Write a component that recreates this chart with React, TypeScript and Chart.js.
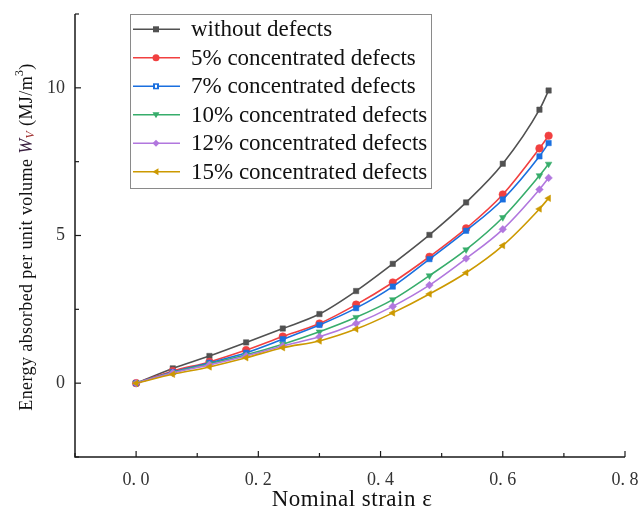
import React, { useEffect, useRef } from "react";
import { Chart, registerables } from "chart.js";

Chart.register(...registerables);

const strain = [0, 0.06, 0.12, 0.18, 0.24, 0.30, 0.36, 0.42, 0.48, 0.54, 0.60, 0.66, 0.675];
const withoutDefects = [0, 0.50, 0.92, 1.38, 1.85, 2.34, 3.12, 4.04, 5.02, 6.12, 7.43, 9.26, 9.91];
const defects5 = [0, 0.41, 0.72, 1.12, 1.58, 2.02, 2.66, 3.41, 4.28, 5.24, 6.39, 7.95, 8.38];
const defects7 = [0, 0.38, 0.69, 1.03, 1.49, 1.97, 2.54, 3.27, 4.20, 5.16, 6.22, 7.68, 8.13];
const defects10 = [0, 0.36, 0.66, 0.96, 1.32, 1.74, 2.23, 2.83, 3.64, 4.52, 5.61, 7.03, 7.42];
const defects12 = [0, 0.35, 0.62, 0.92, 1.26, 1.57, 2.02, 2.60, 3.32, 4.22, 5.21, 6.56, 6.95];
const defects15 = [0, 0.30, 0.55, 0.86, 1.20, 1.43, 1.83, 2.38, 3.02, 3.74, 4.66, 5.90, 6.26];

const seriesLabels = [
  "without defects",
  "5% concentrated defects",
  "7% concentrated defects",
  "10% concentrated defects",
  "12% concentrated defects",
  "15% concentrated defects",
];
const seriesValues = [withoutDefects, defects5, defects7, defects10, defects12, defects15];
const seriesColors = ["#515151", "#F14040", "#1A6FDF", "#37AD6B", "#B177DE", "#CC9900"];
const seriesMarkers = ["rect", "circle", "rect", "triangle", "rectRot", "triangle"];
const seriesRotation = [0, 0, 0, 180, 0, -90];

const xTickLabels = ["0. 0", "0. 2", "0. 4", "0. 6", "0. 8"];
const yTickLabels = ["0", "5", "10"];

const SERIF = "'Liberation Serif', 'Times New Roman', serif";
const OFF = 8;

function drawMarker(ctx: CanvasRenderingContext2D, i: number, x: number, y: number) {
  const c = seriesColors[i];
  ctx.save();
  ctx.fillStyle = c;
  ctx.strokeStyle = c;
  ctx.lineWidth = 1;
  const r = 3.5;
  ctx.beginPath();
  if (i === 0) {
    ctx.rect(x - 3, y - 3, 6, 6);
    ctx.fill();
  } else if (i === 1) {
    ctx.arc(x, y, r, 0, Math.PI * 2);
    ctx.fill();
  } else if (i === 2) {
    ctx.rect(x - 3, y - 3, 6, 6);
    ctx.fill();
    ctx.fillStyle = "#ffffff";
    ctx.fillRect(x - 1, y - 1.5, 2, 3);
  } else if (i === 3) {
    ctx.moveTo(x - r, y - r * 0.7);
    ctx.lineTo(x + r, y - r * 0.7);
    ctx.lineTo(x, y + r);
    ctx.closePath();
    ctx.fill();
  } else if (i === 4) {
    ctx.moveTo(x, y - r);
    ctx.lineTo(x + r, y);
    ctx.lineTo(x, y + r);
    ctx.lineTo(x - r, y);
    ctx.closePath();
    ctx.fill();
  } else {
    ctx.moveTo(x - r, y);
    ctx.lineTo(x + r * 0.7, y - r);
    ctx.lineTo(x + r * 0.7, y + r);
    ctx.closePath();
    ctx.fill();
  }
  ctx.restore();
}

const decorPlugin = {
  id: "decor",
  afterDraw(chart: any) {
    const ctx: any = chart.ctx;
    const { left, right, top, bottom } = chart.chartArea;
    const xs = chart.scales.x;
    const ys = chart.scales.y;
    ctx.save();
    // axes
    ctx.strokeStyle = "#1a1a1a";
    ctx.lineWidth = 1.5;
    ctx.beginPath();
    ctx.moveTo(left, top);
    ctx.lineTo(left, bottom);
    ctx.lineTo(right, bottom);
    ctx.stroke();
    // ticks
    ctx.lineWidth = 1.2;
    for (let k = 0; k <= 9; k++) {
      const v = -0.1 + k * 0.1;
      const px = xs.getPixelForValue(v);
      const major = k % 2 === 1;
      ctx.beginPath();
      ctx.moveTo(px, bottom);
      ctx.lineTo(px, bottom - (major ? 6 : 4));
      ctx.stroke();
    }
    for (let k = 0; k <= 6; k++) {
      const v = -2.5 + k * 2.5;
      const py = ys.getPixelForValue(v);
      const major = k % 2 === 1;
      ctx.beginPath();
      ctx.moveTo(left, py);
      ctx.lineTo(left + (major ? 6 : 4), py);
      ctx.stroke();
    }
    // x title
    ctx.fillStyle = "#111";
    ctx.font = `23px ${SERIF}`;
    ctx.letterSpacing = "0.5px";
    ctx.textAlign = "center";
    ctx.textBaseline = "middle";
    ctx.fillText("Nominal strain ε", 344 + OFF, 492 + OFF);
    // y title (rotated, mixed styling)
    ctx.save();
    ctx.translate(19 + OFF, 229 + OFF);
    ctx.rotate(-Math.PI / 2);
    ctx.letterSpacing = "0.4px";
    const fs = 18;
    const parts: [string, string, number, string][] = [
      ["Energy absorbed per unit volume ", `${fs}px ${SERIF}`, 0, "#111"],
      ["W", `italic ${fs}px ${SERIF}`, 0, "#3a2040"],
      ["V", `italic ${fs * 0.65}px ${SERIF}`, 4, "#a03030"],
      [" (MJ/m", `${fs}px ${SERIF}`, 0, "#111"],
      ["3", `${fs * 0.65}px ${SERIF}`, -7, "#111"],
      [")", `${fs}px ${SERIF}`, 0, "#111"],
    ];
    let total = 0;
    for (const p of parts) {
      ctx.font = p[1];
      total += ctx.measureText(p[0]).width;
    }
    let cx = -total / 2;
    ctx.textAlign = "left";
    ctx.textBaseline = "middle";
    for (const p of parts) {
      ctx.font = p[1];
      ctx.fillStyle = p[3];
      ctx.fillText(p[0], cx, p[2]);
      cx += ctx.measureText(p[0]).width;
    }
    ctx.restore();

    // legend
    const lx = 122 + OFF, ly = 6 + OFF, lw = 301, lh = 174;
    ctx.fillStyle = "#ffffff";
    ctx.fillRect(lx, ly, lw, lh);
    ctx.strokeStyle = "#8a8a8a";
    ctx.lineWidth = 1;
    ctx.strokeRect(lx + 0.5, ly + 0.5, lw, lh);
    ctx.font = `23px ${SERIF}`;
    ctx.letterSpacing = "0px";
    ctx.textAlign = "left";
    ctx.textBaseline = "middle";
    for (let i = 0; i < seriesLabels.length; i++) {
      const y = 21.3 + OFF + i * 28.5;
      ctx.strokeStyle = seriesColors[i];
      ctx.lineWidth = 1.5;
      ctx.beginPath();
      ctx.moveTo(125 + OFF, y);
      ctx.lineTo(172 + OFF, y);
      ctx.stroke();
      drawMarker(ctx, i, 148 + OFF, y);
      ctx.fillStyle = "#111";
      ctx.fillText(seriesLabels[i], 183 + OFF, y + 1);
    }
    ctx.restore();
  },
};

export default function App() {
  const ref = useRef<HTMLCanvasElement | null>(null);
  useEffect(() => {
    if (!ref.current) return;
    const prevMargin = document.body.style.margin;
    document.body.style.margin = "0";
    const datasets = seriesLabels.map((label, i) => ({
      label,
      data: strain.map((x, j) => ({ x, y: seriesValues[i][j] })),
      borderColor: seriesColors[i],
      backgroundColor: seriesColors[i],
      borderWidth: 1.6,
      pointStyle: seriesMarkers[i] as any,
      rotation: seriesRotation[i],
      pointRadius: 3.8,
      pointBorderWidth: 0.5,
      tension: 0.3,
      cubicInterpolationMode: "monotone" as const,
      fill: false,
    }));
    const zeroPad = (s: any) => {
      s.paddingLeft = 0;
      s.paddingRight = 0;
      s.paddingTop = 0;
      s.paddingBottom = 0;
    };
    const chart = new Chart(ref.current, {
      type: "line",
      data: { datasets: datasets.slice().reverse() as any },
      options: {
        animation: false,
        responsive: false,
        maintainAspectRatio: false,
        devicePixelRatio: 1,
        layout: { padding: { top: 14, right: 14, left: 8, bottom: 8 } },
        plugins: { legend: { display: false }, tooltip: { enabled: false } },
        scales: {
          x: {
            type: "linear",
            min: -0.1,
            max: 0.8,
            grid: { display: false, drawTicks: false },
            border: { display: false },
            afterFit: (s: any) => { s.height = 55; zeroPad(s); },
            ticks: {
              stepSize: 0.1,
              autoSkip: false,
              maxRotation: 0,
              padding: 12,
              color: "#333",
              font: { family: SERIF, size: 18 },
              callback: (v: any) => {
                const idx = Math.round(Number(v) / 0.2);
                if (Math.abs(Number(v) - idx * 0.2) < 1e-6 && idx >= 0 && idx < xTickLabels.length) return xTickLabels[idx];
                return "";
              },
            },
          },
          y: {
            type: "linear",
            min: -2.5,
            max: 12.5,
            grid: { display: false, drawTicks: false },
            border: { display: false },
            afterFit: (s: any) => { s.width = 67; zeroPad(s); },
            ticks: {
              stepSize: 2.5,
              autoSkip: false,
              padding: 10,
              color: "#333",
              font: { family: SERIF, size: 18 },
              callback: (v: any) => {
                const idx = Math.round(Number(v) / 5);
                if (Math.abs(Number(v) - idx * 5) < 1e-6 && idx >= 0 && idx < yTickLabels.length) return yTickLabels[idx];
                return "";
              },
            },
          },
        },
      },
      plugins: [decorPlugin],
    });
    return () => {
      chart.destroy();
      document.body.style.margin = prevMargin;
    };
  }, []);
  return (
    <div style={{ width: 639, height: 520, position: "relative", overflow: "hidden" }}>
      <canvas ref={ref} width={639} height={520} style={{ width: 639, height: 520, display: "block" }} />
    </div>
  );
}
